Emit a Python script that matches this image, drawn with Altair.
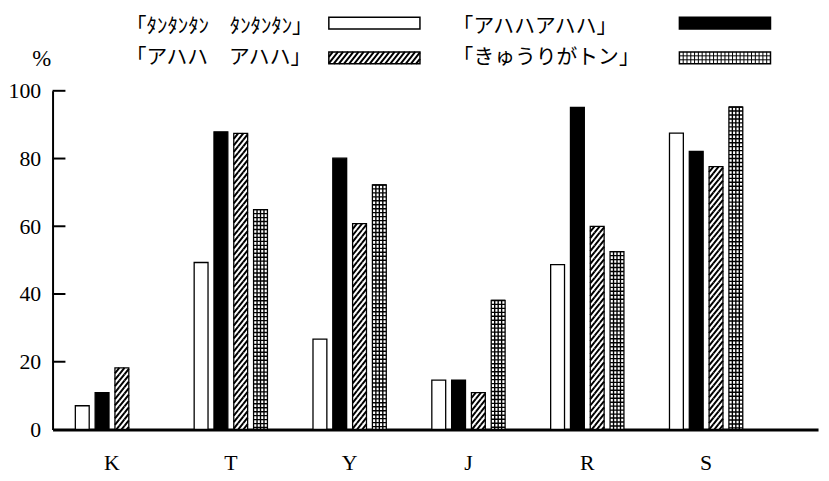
import altair as alt
import pandas as pd

# ---------------- data ----------------
groups = ["K", "T", "Y", "J", "R", "S"]
series = ["「ﾀﾝﾀﾝﾀﾝ　ﾀﾝﾀﾝﾀﾝ」", "「アハハアハハ」", "「アハハ　アハハ」", "「きゅうりがトン」"]
tantan = [7.0, 49.3, 26.7, 14.6, 48.7, 87.5]
ahaha = [10.9, 87.9, 80.1, 14.6, 95.1, 82.1]
ahaha_sp = [18.2, 87.4, 60.8, 10.9, 60.0, 77.6]
kyuri = [None, 64.9, 72.2, 38.1, 52.5, 95.2]
y_ticks = [0, 20, 40, 60, 80, 100]
y_title = "%"

values_by_series = [tantan, ahaha, ahaha_sp, kyuri]
rows = []
for s, vals in zip(series, values_by_series):
    for g, v in zip(groups, vals):
        rows.append({"group": g, "series": s, "value": v})
df = pd.DataFrame(rows)

# ---------------- styles ----------------
W, H = 773, 342
PX = H / 100.0            # pixels per percent
BAR_W = 14
SERIF = "Liberation Serif"
JP = "Noto Sans CJK JP"
fills = ["white", "black", "white", "white"]


def hatch_path(w, h, period, slope):
    s = w / 2.0
    parts = []
    n = int((w * slope + h) / period) + 3
    for k in range(-n, n + 1):
        c = k * period
        lo = max(-w / 2.0, (c - h / 2.0) / slope)
        hi = min(w / 2.0, (c + h / 2.0) / slope)
        if hi - lo > 1e-6:
            parts.append(
                f"M{lo / s:.4f},{(c - slope * lo) / s:.4f}L{hi / s:.4f},{(c - slope * hi) / s:.4f}"
            )
    return "".join(parts)


def grid_path(w, h, ncols, hlines):
    s = w / 2.0
    parts = []
    for yy in hlines:
        parts.append(f"M-1,{yy / s:.4f}H1")
    for j in range(1, ncols):
        x = -w / 2.0 + j * w / ncols
        parts.append(f"M{x / s:.4f},{-h / 2.0 / s:.4f}V{h / 2.0 / s:.4f}")
    return "".join(parts)


HATCH_P = 6.5
GRID_P = 4.0
hatch_tile = hatch_path(BAR_W, HATCH_P, HATCH_P, 1.25)
grid_tile = grid_path(BAR_W, GRID_P, 4, [-GRID_P / 2.0])

x_enc = alt.X(
    "group:N",
    sort=groups,
    scale=alt.Scale(domain=groups, paddingInner=1 / 3, paddingOuter=0.3875, align=0.215),
    axis=alt.Axis(
        title=None, labelAngle=0, ticks=False, tickSize=0, domainWidth=3,
        domainColor="black", labelFont=SERIF, labelFontSize=22, labelColor="black",
        labelPadding=40, labelBaseline="alphabetic",
    ),
)
xo_enc = alt.XOffset(
    "series:N", sort=series,
    scale=alt.Scale(domain=series, paddingInner=0.3, paddingOuter=0.15),
)
y_scale = alt.Scale(domain=[0, 100], nice=False)

bars = alt.Chart(df).mark_bar(stroke="black", strokeWidth=1.3).encode(
    x=x_enc,
    xOffset=xo_enc,
    y=alt.Y(
        "value:Q", scale=y_scale,
        axis=alt.Axis(
            title=None, values=y_ticks, ticks=False, tickSize=0, grid=False,
            domainWidth=2, domainColor="black", labelFont=SERIF, labelFontSize=22,
            labelColor="black", labelPadding=12,
        ),
    ),
    fill=alt.Fill("series:N", scale=alt.Scale(domain=series, range=fills), legend=None),
)


def tiles(name, step_px, shape, sw):
    step = step_px / PX
    return (
        alt.Chart(df)
        .transform_filter(alt.FieldEqualPredicate(field="series", equal=name))
        .transform_filter("isValid(datum.value)")
        .transform_calculate(seq=f"sequence(0, datum.value, {step})")
        .transform_flatten(["seq"])
        .transform_calculate(ty=f"datum.value - datum.seq - {step / 2}")
        .mark_point(shape=shape, size=BAR_W * BAR_W, filled=False, color="black",
                    opacity=1, strokeWidth=sw, clip=True)
        .encode(x=x_enc, xOffset=xo_enc, y=alt.Y("ty:Q", scale=y_scale))
    )


hatch_layer = tiles(series[2], HATCH_P, hatch_tile, 2.0)
grid_layer = tiles(series[3], GRID_P, grid_tile, 1.4)

tick_df = pd.DataFrame({"t": [t for t in y_ticks if t > 0]})
inner_ticks = alt.Chart(tick_df).mark_rule(color="black", strokeWidth=2).encode(
    x=alt.value(0), x2=alt.value(13), y=alt.Y("t:Q", scale=y_scale)
)

# ---------------- legend (drawn above the plot) ----------------
dummy = pd.DataFrame({"k": [0]})
SW_W, SW_H = 92, 12
col_sw_x = [279, 633]
col_tx_x = [74, 404]
row_sw_y = [-68.3, -33.3]
row_tx_y = [-64.0, -33.3]
hatch_sw = hatch_path(SW_W, SW_H, HATCH_P, 1.25)
grid_sw = grid_path(SW_W, SW_H, 24, [-2.0, 2.0])

legend_layers = []
for i, name in enumerate(series):
    r, c = i // 2, i % 2
    x0 = col_sw_x[c]
    yc = row_sw_y[r]
    legend_layers.append(
        alt.Chart(dummy).mark_rect(fill=fills[i], stroke="black", strokeWidth=1.5).encode(
            x=alt.value(x0), x2=alt.value(x0 + SW_W),
            y=alt.value(yc - SW_H / 2), y2=alt.value(yc + SW_H / 2),
        )
    )
    if i == 2:
        legend_layers.append(
            alt.Chart(dummy).mark_point(shape=hatch_sw, size=SW_W * SW_W, filled=False,
                                        color="black", opacity=1, strokeWidth=2).encode(
                x=alt.value(x0 + SW_W / 2), y=alt.value(yc))
        )
    if i == 3:
        legend_layers.append(
            alt.Chart(dummy).mark_point(shape=grid_sw, size=SW_W * SW_W, filled=False,
                                        color="black", opacity=1, strokeWidth=1).encode(
                x=alt.value(x0 + SW_W / 2), y=alt.value(yc))
        )
    legend_layers.append(
        alt.Chart(dummy).mark_text(text=name, align="left", baseline="middle", font=JP,
                                   fontSize=21, color="black").encode(
            x=alt.value(col_tx_x[c]), y=alt.value(row_tx_y[r]))
    )

pct = alt.Chart(dummy).mark_text(text=y_title, align="center", baseline="middle", font=SERIF,
                                 fontSize=23, color="black").encode(
    x=alt.value(-11), y=alt.value(-32.3))

chart = (
    alt.layer(bars, hatch_layer, grid_layer, inner_ticks, *legend_layers, pct)
    .properties(
        width=W, height=H,
        padding={"left": 45, "top": 81.3, "right": 3, "bottom": 48},
        autosize=alt.AutoSizeParams(type="none"),
        background="white",
    )
    .configure_view(stroke=None)
)

chart.save("out.html", embed_options={"renderer": "svg", "actions": False})
